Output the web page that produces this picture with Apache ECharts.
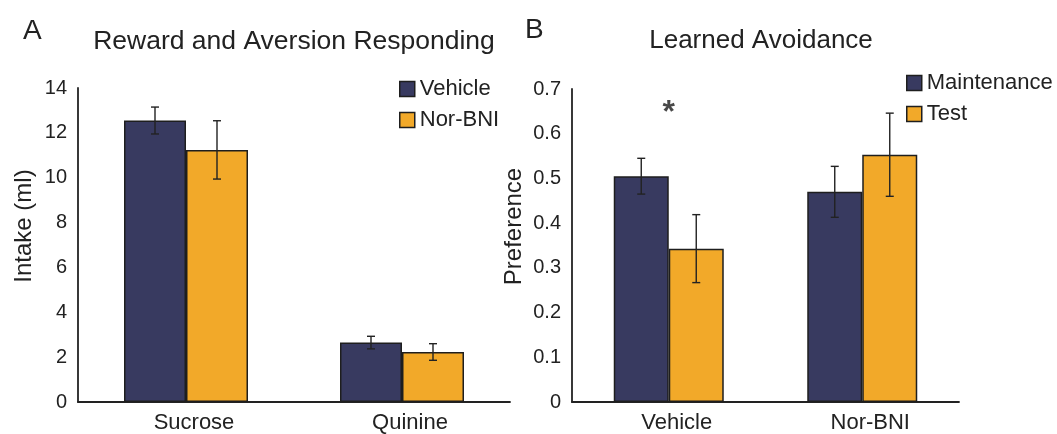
<!DOCTYPE html>
<html>
<head>
<meta charset="utf-8">
<script src="https://cdn.jsdelivr.net/npm/echarts@6/dist/echarts.min.js"></script>
<style>
  html, body { margin: 0; padding: 0; background: #fff; }
  #chart { width: 1057px; height: 434px; }
</style>
</head>
<body>
<div id="chart"></div>
<script>
// panel A: reward and aversion responding
const categoriesA = ['Sucrose', 'Quinine']
const vehicleA = [12.55, 2.65]
const vehicleErrA = [0.6, 0.28]
const norBniA = [11.24, 2.23]
const norBniErrA = [1.3, 0.37]
const ticksA = [0, 14, 2] // min, max, step

// panel B: learned avoidance
const categoriesB = ['Vehicle', 'Nor-BNI']
const maintenanceB = [0.505, 0.47]
const maintenanceErrB = [0.04, 0.057]
const testB = [0.343, 0.553]
const testErrB = [0.076, 0.093]
const ticksB = [0, 0.7, 0.1]
const starB = [[0, 0.645]] // significance mark over Vehicle

const navy = '#383a60'
const orange = '#f2a929'
const edge = '#1e1e1e'
const font = 'Liberation Sans, Arial, sans-serif'

const chart = echarts.init(document.getElementById('chart'))

// error bar drawn at +/- offset px from category centre
function errorBars(offset) {
  return function(params, api) {
    const x = api.value(0)
    const v = api.value(1)
    const e = api.value(2)
    const hi = api.coord([x, v + e])
    const lo = api.coord([x, v - e])
    const cx = hi[0] + offset
    const style = { stroke: '#222', lineWidth: 1.4 }
    return {
      type: 'group',
      children: [
        { type: 'line', shape: { x1: cx, y1: hi[1], x2: cx, y2: lo[1] }, style },
        { type: 'line', shape: { x1: cx - 4, y1: hi[1], x2: cx + 4, y2: hi[1] }, style },
        { type: 'line', shape: { x1: cx - 4, y1: lo[1], x2: cx + 4, y2: lo[1] }, style }
      ]
    }
  }
}

function errData(vals, errs) {
  return vals.map((v, i) => [i, v, errs[i]])
}

const axisLine = { show: true, lineStyle: { color: '#222', width: 1.8 } }

function catAxis(idx, cats) {
  return {
    type: 'category',
    gridIndex: idx,
    data: cats,
    axisLine,
    axisTick: { show: false },
    axisLabel: { color: '#222', fontSize: 22, fontFamily: font, margin: 10, padding: [0, 0, 0, 16] }
  }
}

function valAxis(idx, ticks, name, gap) {
  return {
    type: 'value',
    gridIndex: idx,
    min: ticks[0],
    max: ticks[1],
    interval: ticks[2],
    splitLine: { show: false },
    axisLine,
    axisTick: { show: false },
    axisLabel: { color: '#222', fontSize: 20, fontFamily: font, margin: 11 },
    name,
    nameLocation: 'middle',
    nameGap: gap,
    nameTextStyle: { color: '#222', fontSize: 24, fontFamily: font, padding: [0, 0, 0, 38] }
  }
}

const barStyle = color => ({ color, borderColor: edge, borderWidth: 1.5 })
const titleStyle = size => ({ fontSize: size, fontWeight: 'normal', color: '#222', fontFamily: font })

chart.setOption({
  animation: false,
  title: [
    { text: 'A', left: 18, top: 12, textStyle: titleStyle(28) },
    { text: 'B', left: 520, top: 11, textStyle: titleStyle(28) },
    { text: 'Reward and Aversion Responding', left: 289, top: 23, textAlign: 'center', textStyle: titleStyle(26.5) },
    { text: 'Learned Avoidance', left: 756, top: 23, textAlign: 'center', textStyle: titleStyle(26) }
  ],
  legend: [
    {
      data: ['Vehicle', 'Nor-BNI'],
      orient: 'vertical', left: 394, top: 73,
      itemWidth: 15, itemHeight: 15, itemGap: 9, icon: 'rect',
      itemStyle: { borderColor: edge, borderWidth: 1.5 },
      textStyle: { fontSize: 22, color: '#222', fontFamily: font }
    },
    {
      data: ['Maintenance', 'Test'],
      orient: 'vertical', left: 901, top: 67,
      itemWidth: 15, itemHeight: 15, itemGap: 9, icon: 'rect',
      itemStyle: { borderColor: edge, borderWidth: 1.5 },
      textStyle: { fontSize: 22, color: '#222', fontFamily: font }
    }
  ],
  grid: [
    { left: 78, top: 88, width: 432, bottom: 31 },
    { left: 572, top: 89, width: 387, bottom: 31 }
  ],
  xAxis: [catAxis(0, categoriesA), catAxis(1, categoriesB)],
  yAxis: [
    valAxis(0, ticksA, 'Intake (ml)', 42),
    valAxis(1, ticksB, 'Preference', 46)
  ],
  series: [
    { name: 'Vehicle', type: 'bar', xAxisIndex: 0, yAxisIndex: 0, data: vehicleA,
      barWidth: 62, barGap: '0%', itemStyle: barStyle(navy) },
    { name: 'Nor-BNI', type: 'bar', xAxisIndex: 0, yAxisIndex: 0, data: norBniA,
      barWidth: 62, barGap: '0%', itemStyle: barStyle(orange) },
    { type: 'custom', xAxisIndex: 0, yAxisIndex: 0, z: 5, data: errData(vehicleA, vehicleErrA),
      renderItem: errorBars(-31) },
    { type: 'custom', xAxisIndex: 0, yAxisIndex: 0, z: 5, data: errData(norBniA, norBniErrA),
      renderItem: errorBars(31) },

    { name: 'Maintenance', type: 'bar', xAxisIndex: 1, yAxisIndex: 1, data: maintenanceB,
      barWidth: 55, barGap: '0%', itemStyle: barStyle(navy) },
    { name: 'Test', type: 'bar', xAxisIndex: 1, yAxisIndex: 1, data: testB,
      barWidth: 55, barGap: '0%', itemStyle: barStyle(orange) },
    { type: 'custom', xAxisIndex: 1, yAxisIndex: 1, z: 5, data: errData(maintenanceB, maintenanceErrB),
      renderItem: errorBars(-27.5) },
    { type: 'custom', xAxisIndex: 1, yAxisIndex: 1, z: 5, data: errData(testB, testErrB),
      renderItem: errorBars(27.5) },
    { type: 'scatter', xAxisIndex: 1, yAxisIndex: 1, data: starB, symbolSize: 0,
      label: { show: true, position: 'inside', formatter: '*', fontSize: 32, fontWeight: 'bold',
        color: '#1a1a1a', fontFamily: font } }
  ]
})
</script>
</body>
</html>
